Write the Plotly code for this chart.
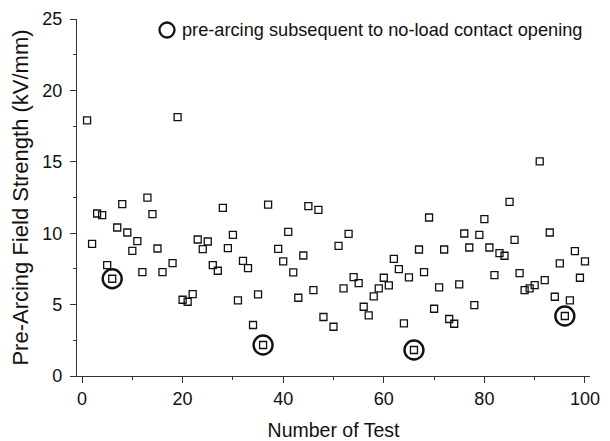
import plotly.graph_objects as go

# Test numbers (some tests have no recorded value: 17, 38, 49)
tests = [1, 2, 3, 4, 5, 6, 7, 8, 9, 10, 11, 12, 13, 14, 15, 16, 18, 19, 20,
         21, 22, 23, 24, 25, 26, 27, 28, 29, 30, 31, 32, 33, 34, 35, 36, 37, 39, 40,
         41, 42, 43, 44, 45, 46, 47, 48, 50, 51, 52, 53, 54, 55, 56, 57, 58, 59, 60,
         61, 62, 63, 64, 65, 66, 67, 68, 69, 70, 71, 72, 73, 74, 75, 76, 77, 78, 79, 80,
         81, 82, 83, 84, 85, 86, 87, 88, 89, 90, 91, 92, 93, 94, 95, 96, 97, 98, 99, 100]

field_strength = [17.9, 9.25, 11.38, 11.26, 7.76, 6.81, 10.4, 12.03, 10.05, 8.76,
                  9.44, 7.27, 12.49, 11.33, 8.93, 7.27, 7.9, 18.13, 5.34,
                  5.2, 5.73, 9.56, 8.88, 9.42, 7.76, 7.37, 11.77, 8.95, 9.88,
                  5.29, 8.06, 7.55, 3.57, 5.71, 2.17, 12.0, 8.9, 8.02,
                  10.09, 7.25, 5.48, 8.44, 11.89, 6.01, 11.63, 4.13, 3.45,
                  9.11, 6.13, 9.95, 6.92, 6.5, 4.85, 4.24, 5.57, 6.13, 6.88,
                  6.34, 8.2, 7.48, 3.68, 6.9, 1.82, 8.86, 7.27, 11.1, 4.71,
                  6.2, 8.86, 3.99, 3.66, 6.41, 9.98, 9.0, 4.97, 9.88, 10.98,
                  9.0, 7.06, 8.6, 8.42, 12.19, 9.53, 7.2, 6.01, 6.13, 6.36,
                  15.03, 6.71, 10.05, 5.55, 7.88, 4.2, 5.29, 8.74, 6.88, 8.02]

# Tests with pre-arcing subsequent to no-load contact opening
circled_tests = [6, 36, 66, 96]
circled_values = [6.81, 2.17, 1.82, 4.2]
legend_label = "pre-arcing subsequent to no-load contact opening"

x_ticks = [0, 20, 40, 60, 80, 100]
y_ticks = [0, 5, 10, 15, 20, 25]

ink = "#111111"
axis_col = "#333333"
font_family = "Arial, Liberation Sans, sans-serif"

W, H = 610, 441
ML, MR, MT, MB = 77, 20, 19, 65
PW, PH = W - ML - MR, H - MT - MB


def px_to_paper(px, py):
    return (px - ML) / PW, (H - MB - py) / PH


fig = go.Figure()
fig.add_trace(go.Scatter(
    x=tests, y=field_strength, mode="markers", showlegend=False,
    marker=dict(symbol="square-open", size=7, color=ink, line=dict(width=1.3, color=ink)),
))
fig.add_trace(go.Scatter(
    x=circled_tests, y=circled_values, mode="markers", showlegend=False,
    name=legend_label,
    marker=dict(symbol="circle-open", size=19, color=ink, line=dict(width=2.4, color=ink)),
))

# Legend key drawn manually (circle + label)
cx, cy = px_to_paper(167, 30)
r = 7.5
fig.add_shape(type="circle", xref="paper", yref="paper",
              x0=cx - r / PW, x1=cx + r / PW, y0=cy - r / PH, y1=cy + r / PH,
              line=dict(color=ink, width=2.3))
tx, _ = px_to_paper(180, 30)
fig.add_annotation(xref="paper", yref="paper", x=tx, y=cy, xanchor="left", yanchor="middle",
                   text=legend_label, showarrow=False,
                   font=dict(size=18.2, family=font_family, color=ink))

axis_common = dict(
    showgrid=False, zeroline=False, showline=True, linecolor=axis_col, linewidth=1.3,
    ticks="outside", tickcolor=axis_col, tickwidth=1.3, ticklen=6,
    tickfont=dict(family=font_family, size=18, color=ink),
    mirror=False, automargin=False,
)

fig.update_layout(
    width=W, height=H,
    margin=dict(l=ML, r=MR, t=MT, b=MB),
    paper_bgcolor="white", plot_bgcolor="white",
    font=dict(family=font_family, color=ink),
    showlegend=False,
    xaxis=dict(range=[-1, 101], tickvals=x_ticks, ticklabelstandoff=0,
               minor=dict(dtick=10, tick0=0, ticks="outside", ticklen=3, tickcolor=axis_col, tickwidth=1.3),
               title=dict(text="Number of Test", font=dict(size=19.5, family=font_family, color=ink), standoff=22),
               **axis_common),
    yaxis=dict(range=[0, 25], tickvals=y_ticks, ticklabelstandoff=4,
               minor=dict(dtick=2.5, tick0=0, ticks="outside", ticklen=3, tickcolor=axis_col, tickwidth=1.3),
               title=dict(text="Pre-Arcing Field Strength (kV/mm)", font=dict(size=22, family=font_family, color=ink), standoff=7),
               **axis_common),
)

fig.write_html("out.html")
